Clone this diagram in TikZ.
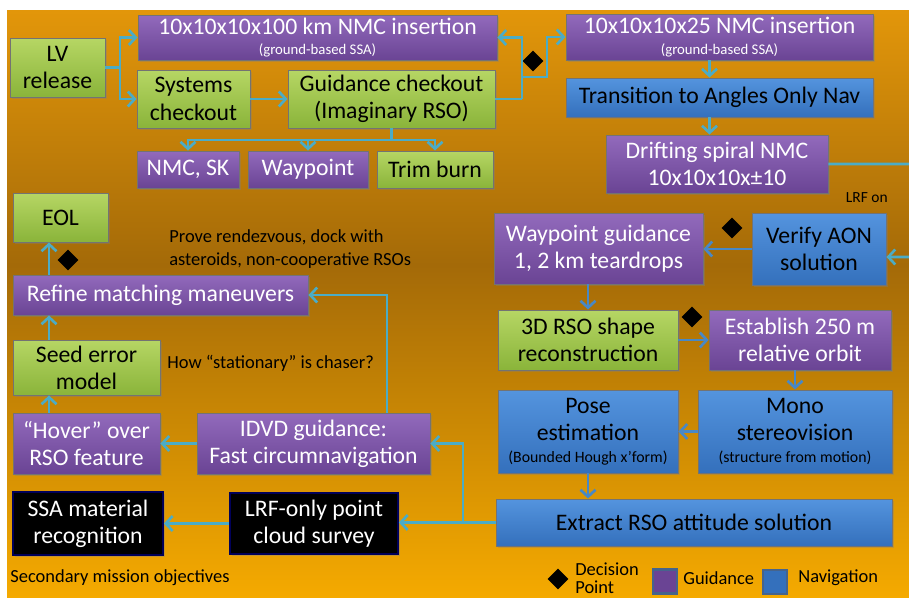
\documentclass[tikz,border=0pt]{standalone}
\usepackage{fontspec}
\setmainfont{Carlito}
\usetikzlibrary{positioning,shapes.geometric,arrows.meta,shadows}

\definecolor{bgtop}{RGB}{226,150,10}
\definecolor{bgmid}{RGB}{164,106,8}
\definecolor{bgbot}{RGB}{245,170,0}
\definecolor{purtop}{RGB}{146,106,188}
\definecolor{purbot}{RGB}{106,68,148}
\definecolor{grntop}{RGB}{182,214,100}
\definecolor{grnbot}{RGB}{138,180,58}
\definecolor{blutop}{RGB}{84,148,222}
\definecolor{blubot}{RGB}{52,112,188}
\definecolor{flowcol}{RGB}{75,172,198}
\definecolor{navcol}{RGB}{72,136,198}

\newcommand{\bxfont}{\fontsize{13.5}{15.5}\selectfont}
\newcommand{\smfont}{\fontsize{8.4}{9.5}\selectfont}
\newcommand{\ntfont}{\fontsize{10.5}{13}\selectfont}

\tikzset{
  basebox/.style={rectangle, draw=black!55, line width=0.5pt, align=center,
    inner sep=1pt, font=\bxfont,
    drop shadow={opacity=0.35, shadow xshift=1pt, shadow yshift=-1pt}},
  gbox/.style={basebox, top color=grntop, bottom color=grnbot, text=black},
  pbox/.style={basebox, top color=purtop, bottom color=purbot, text=white},
  bbox/.style={basebox, top color=blutop, bottom color=blubot, text=black},
  kbox/.style={basebox, fill=black, draw=blue!35!black, line width=1pt, text=white},
  flow/.style={draw=flowcol, line width=1.5pt},
  navflow/.style={draw=navcol, line width=1.5pt},
  arr/.style={-{Straight Barb[length=1.4mm,width=3mm]}},
  decision/.style={diamond, fill=black, inner sep=0pt, minimum width=0.42cm, minimum height=0.42cm},
  annot/.style={font=\ntfont, text=black, inner sep=0pt, align=left},
  legsq/.style={rectangle, draw={rgb,255:red,70;green,100;blue,140}, line width=1.2pt, inner sep=0pt, minimum size=0.48cm},
}

\begin{document}
\begin{tikzpicture}[x=0.02cm,y=-0.02cm]
  \useasboundingbox (0,0) rectangle (909,598);
  % Background
  \shade[top color=bgtop, bottom color=bgmid] (7,11) rectangle (909,265);
  \shade[top color=bgmid, bottom color=bgbot] (7,265) rectangle (909,598);

  % Define nodes
  \node[gbox, minimum width=1.90cm, minimum height=1.18cm] (lv) at (57.5,67.5) {LV\\release};
  \node[pbox, minimum width=7.18cm, minimum height=0.90cm] (ins100) at (317.5,37.5)
    {10x10x10x100 km NMC insertion\\[-4pt]{\smfont (ground-based SSA)}};
  \node[gbox, minimum width=2.26cm, minimum height=1.16cm] (syschk) at (193.5,99) {Systems\\checkout};
  \node[gbox, minimum width=4.14cm, minimum height=1.16cm] (guichk) at (391.5,99) {Guidance checkout\\(Imaginary RSO)};
  \node[pbox, minimum width=2.04cm, minimum height=0.74cm] (nmcsk) at (188,169.5) {NMC, SK};
  \node[pbox, minimum width=2.40cm, minimum height=0.74cm] (waypt) at (308,169.5) {Waypoint};
  \node[gbox, minimum width=2.32cm, minimum height=0.74cm] (trim) at (435,169.5) {Trim burn};
  \node[pbox, minimum width=6.14cm, minimum height=0.92cm] (ins25) at (719.5,37)
    {10x10x10x25 NMC insertion\\[-4pt]{\smfont (ground-based SSA)}};
  \node[bbox, minimum width=6.14cm, minimum height=0.78cm] (trans) at (719.5,97.5) {Transition to Angles Only Nav};
  \node[pbox, minimum width=4.44cm, minimum height=1.16cm] (drift) at (717,164) {Drifting spiral NMC\\10x10x10x±10};
  \node[gbox, minimum width=1.90cm, minimum height=0.98cm] (eol) at (60.5,217.5) {EOL};
  \node[pbox, minimum width=5.90cm, minimum height=0.80cm] (refine) at (160.5,295) {Refine matching maneuvers};
  \node[gbox, minimum width=2.94cm, minimum height=1.10cm] (seed) at (86.5,367.5) {Seed error\\model};
  \node[pbox, minimum width=2.94cm, minimum height=1.22cm] (hover) at (86.5,443.5) {“Hover” over\\RSO feature};
  \node[pbox, minimum width=4.66cm, minimum height=1.22cm] (idvd) at (313.5,443.5) {IDVD guidance:\\Fast circumnavigation};
  \node[kbox, minimum width=3.00cm, minimum height=1.26cm] (ssa) at (88,523.5) {SSA material\\recognition};
  \node[kbox, minimum width=3.36cm, minimum height=1.22cm] (lrf) at (314,523.5) {LRF-only point\\cloud survey};
  \node[pbox, minimum width=4.18cm, minimum height=1.42cm] (wpguid) at (598.5,248.5) {Waypoint guidance\\1, 2 km teardrops};
  \node[bbox, minimum width=2.68cm, minimum height=1.44cm] (verify) at (819,249) {Verify AON\\solution};
  \node[gbox, minimum width=3.60cm, minimum height=1.20cm] (shape) at (588,340) {3D RSO shape\\reconstruction};
  \node[pbox, minimum width=3.64cm, minimum height=1.20cm] (orbit) at (800,340) {Establish 250 m\\relative orbit};
  \node[bbox, minimum width=3.60cm, minimum height=1.66cm] (pose) at (588,431.5)
    {Pose\\estimation\\[-3pt]{\fontsize{9}{10}\selectfont (Bounded Hough x’form)}};
  \node[bbox, minimum width=3.88cm, minimum height=1.66cm] (mono) at (795,431.5)
    {Mono\\stereovision\\[-3pt]{\fontsize{9}{10}\selectfont (structure from motion)}};
  \node[bbox, minimum width=7.92cm, minimum height=0.94cm] (extract) at (694,522.5) {Extract RSO attitude solution};

  % Decision points
  \node[decision] (d1) at (533,61) {};
  \node[decision] (d2) at (68,260) {};
  \node[decision] (d3) at (732,228) {};
  \node[decision] (d4) at (692,317) {};

  % Notes
  \node[annot, anchor=west] (prove) at (169,249) {Prove rendezvous, dock with\\asteroids, non-cooperative RSOs};
  \node[annot, anchor=west] (chaser) at (167,363) {How “stationary” is chaser?};
  \node[annot, anchor=east, font=\fontsize{8.8}{10}\selectfont] (lrfon) at (888,198) {LRF on};
  \node[annot, anchor=west] (second) at (10,578) {Secondary mission objectives};

  % Legend
  \node[decision] (ld) at (558,579) {};
  \node[annot, anchor=west, font=\fontsize{10.5}{10.5}\selectfont] (ldt) at (575,578) {Decision\\Point};
  \node[legsq, fill=purbot] (lg) at (665,581.5) {};
  \node[annot, anchor=west] (lgt) at (683,578) {Guidance};
  \node[legsq, fill=blubot] (ln) at (775,582) {};
  \node[annot, anchor=west] (lnt) at (798,578) {Navigation};

  % Connect nodes
  \coordinate (j1) at (120,67.5);
  \draw[flow] (lv) -- (j1);
  \draw[flow, arr] (j1) |- (ins100);
  \draw[flow, arr] (j1) |- (syschk);
  \draw[flow, arr] (syschk) -- (guichk);
  \coordinate (j2) at (522,99);
  \coordinate (j3) at (522,77);
  \draw[flow] (guichk) -- (j2);
  \draw[flow, arr] (j2) |- (ins100);
  \draw[flow, arr] (j3) -- (547,77) |- (ins25);
  \coordinate (j4) at (391.5,140);
  \draw[flow] (guichk) -- (j4);
  \draw[flow, arr] (j4) -| (nmcsk);
  \draw[flow, arr] (j4) -| (waypt);
  \draw[flow, arr] (j4) -| (trim);
  \draw[flow, arr] ([xshift=-0.2cm]ins25.south) -- ([xshift=-0.2cm]trans.north);
  \draw[flow, arr] ([xshift=-0.2cm]trans.south) -- ([xshift=-0.2cm]trans.south |- drift.north);
  \coordinate (edge) at (915,257);
  \draw[flow, arr] (drift.east) -| (edge) -- ([yshift=-0.16cm]verify.east);
  \draw[navflow, arr] (verify.west) -- (verify.west -| wpguid.east);
  \draw[navflow, arr] (shape.north |- wpguid.south) -- (shape.north);
  \draw[navflow, arr] (shape) -- (orbit);
  \draw[navflow, arr] (mono.north |- orbit.south) -- (mono.north);
  \draw[navflow, arr] (mono) -- (pose);
  \draw[navflow, arr] (pose.south) -- (pose.south |- extract.north);
  \draw[flow, arr] (extract.west) -- (extract.west -| lrf.east);
  \coordinate (j5) at (463,522.5);
  \draw[flow, arr] (j5) |- (idvd);
  \coordinate (j6) at (387,295);
  \draw[flow, arr] (j6 |- idvd.north) -- (j6) -- (refine);
  \draw[flow, arr] (idvd) -- (hover);
  \draw[flow, arr] (lrf) -- (ssa);
  \coordinate (k) at (49,0);
  \draw[flow, arr] (hover.north -| k) -- (seed.south -| k);
  \draw[flow, arr] (seed.north -| k) -- (refine.south -| k);
  \draw[flow, arr] (refine.north -| k) -- (eol.south -| k);
\end{tikzpicture}
\end{document}
